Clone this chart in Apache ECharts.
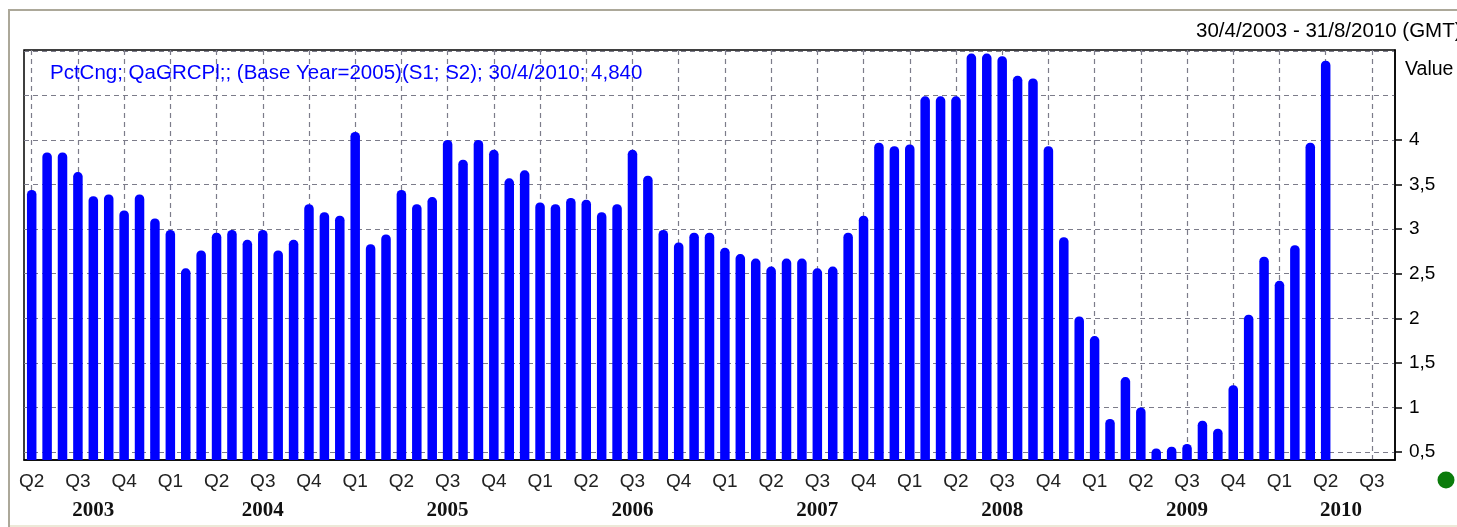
<!DOCTYPE html>
<html>
<head>
<meta charset="utf-8">
<title>PctCng QaGRCPl</title>
<script src="https://cdn.jsdelivr.net/npm/echarts@6/dist/echarts.min.js"></script>
<style>
  html, body { margin: 0; padding: 0; background: #fff; }
  #chart { width: 1457px; height: 527px; }
</style>
</head>
<body>
<div id="chart"></div>
<script>
// monthly categories, 30/4/2003 .. 31/8/2010 (May-Aug 2010 still empty)
const months = [
  '2003-04', '2003-05', '2003-06', '2003-07', '2003-08', '2003-09', '2003-10', '2003-11', '2003-12',
  '2004-01', '2004-02', '2004-03', '2004-04', '2004-05', '2004-06', '2004-07', '2004-08', '2004-09', '2004-10', '2004-11', '2004-12',
  '2005-01', '2005-02', '2005-03', '2005-04', '2005-05', '2005-06', '2005-07', '2005-08', '2005-09', '2005-10', '2005-11', '2005-12',
  '2006-01', '2006-02', '2006-03', '2006-04', '2006-05', '2006-06', '2006-07', '2006-08', '2006-09', '2006-10', '2006-11', '2006-12',
  '2007-01', '2007-02', '2007-03', '2007-04', '2007-05', '2007-06', '2007-07', '2007-08', '2007-09', '2007-10', '2007-11', '2007-12',
  '2008-01', '2008-02', '2008-03', '2008-04', '2008-05', '2008-06', '2008-07', '2008-08', '2008-09', '2008-10', '2008-11', '2008-12',
  '2009-01', '2009-02', '2009-03', '2009-04', '2009-05', '2009-06', '2009-07', '2009-08', '2009-09', '2009-10', '2009-11', '2009-12',
  '2010-01', '2010-02', '2010-03', '2010-04', '2010-05', '2010-06', '2010-07', '2010-08'
];

// percent change values, one per month from Apr 2003 to Apr 2010
const pctChange = [
  3.44, 3.86, 3.86, 3.64, 3.37, 3.39, 3.21, 3.39, 3.12,
  2.99, 2.56, 2.76, 2.96, 2.99, 2.88, 2.99, 2.76, 2.88, 3.28, 3.19, 3.15,
  4.09, 2.83, 2.94, 3.44, 3.28, 3.36, 4.00, 3.78, 4.00, 3.89, 3.57, 3.66,
  3.30, 3.28, 3.35, 3.33, 3.19, 3.28, 3.89, 3.60, 2.99, 2.85, 2.96, 2.96,
  2.79, 2.72, 2.67, 2.58, 2.67, 2.67, 2.56, 2.58, 2.96, 3.15, 3.97, 3.93,
  3.95, 4.49, 4.49, 4.49, 4.97, 4.97, 4.94, 4.72, 4.69, 3.93, 2.91, 2.02,
  1.80, 0.87, 1.34, 1.00, 0.54, 0.56, 0.59, 0.85, 0.76, 1.25, 2.04, 2.69,
  2.42, 2.82, 3.97, 4.89
];

// tick labels
const quarterMonths = { '01': 'Q1', '04': 'Q2', '07': 'Q3', '10': 'Q4' };
const yearLabelAt = ['2003-08', '2004-07', '2005-07', '2006-07', '2007-07', '2008-07', '2009-07', '2010-05'];
const yLabels = [0.5, 1, 1.5, 2, 2.5, 3, 3.5, 4];
const yGrid = [0.5, 1, 1.5, 2, 2.5, 3, 3.5, 4, 4.5, 5];

const titleText = 'PctCng; QaGRCPl;; (Base Year=2005)(S1; S2); 30/4/2010; 4,840';
const rangeText = '30/4/2003 - 31/8/2010 (GMT)';

const FONT = '"Liberation Sans", Arial, sans-serif';
const gridDash = { color: '#7c7c8a', width: 1.2, type: [5, 4] };

const isQuarter = (i, m) => quarterMonths[m.slice(5)] !== undefined;
const isJan = (i, m) => m.slice(5) === '01';

const chart = echarts.init(document.getElementById('chart'));

chart.setOption({
  animation: false,
  backgroundColor: '#fff',
  grid: {
    left: 24, top: 50, right: 62, bottom: 67,
    show: true, borderColor: '#000', borderWidth: 1.5,
    containLabel: false, outerBoundsMode: 'none'
  },
  xAxis: [
    {
      type: 'category',
      data: months,
      boundaryGap: true,
      axisLine: { lineStyle: { color: '#000', width: 1.5 } },
      // small dots just below the axis line
      axisTick: {
        interval: isQuarter, alignWithLabel: true, length: 6,
        lineStyle: { color: '#333', width: 1.5, type: [3, 3], dashOffset: 3 }
      },
      axisLabel: {
        interval: isQuarter, hideOverlap: false, margin: 12,
        fontFamily: FONT, fontSize: 19, color: '#222',
        formatter: m => quarterMonths[m.slice(5)]
      },
      splitLine: { show: true, interval: isQuarter, alignWithLabel: true, lineStyle: gridDash }
    },
    {
      // second row: years with separators
      type: 'category',
      data: months,
      position: 'bottom',
      offset: 38,
      axisLine: { show: false },
      axisTick: {
        interval: isJan, alignWithLabel: true, length: 25,
        lineStyle: { color: '#000', width: 1.5 }
      },
      axisLabel: {
        interval: (i, m) => yearLabelAt.includes(m), hideOverlap: false, margin: 2,
        fontFamily: '"Liberation Serif", "Times New Roman", serif', fontWeight: 'bold',
        fontSize: 21, color: '#111',
        formatter: m => m.slice(0, 4)
      },
      splitLine: { show: false }
    }
  ],
  yAxis: [
    {
      // grid lines only
      type: 'value', position: 'right', min: 0.41, max: 5.01,
      axisLine: { show: false },
      axisTick: { show: false, customValues: yGrid },
      axisLabel: { show: false },
      splitLine: { show: true, lineStyle: gridDash }
    },
    {
      type: 'value', position: 'right', min: 0.41, max: 5.01,
      axisLine: { show: true, lineStyle: { color: '#000', width: 1.5 } },
      axisTick: { show: true, customValues: yLabels, length: 7, lineStyle: { color: '#000', width: 1.5 } },
      axisLabel: {
        customValues: yLabels, margin: 14,
        fontFamily: FONT, fontSize: 19, color: '#000',
        formatter: v => String(v).replace('.', ',')
      },
      splitLine: { show: false }
    }
  ],
  series: [
    {
      type: 'bar',
      xAxisIndex: 0,
      yAxisIndex: 0,
      data: pctChange,
      barWidth: 9.5,
      itemStyle: { color: '#0000ff', borderRadius: [4.5, 4.5, 0, 0] },
      silent: true
    }
  ],
  graphic: [
    // window frame
    { type: 'line', z: 10, shape: { x1: 8, y1: 10, x2: 1457, y2: 10 }, style: { stroke: '#aca899', lineWidth: 2 } },
    { type: 'line', z: 10, shape: { x1: 9, y1: 10, x2: 9, y2: 527 }, style: { stroke: '#aca899', lineWidth: 2 } },
    { type: 'line', z: 10, shape: { x1: 10, y1: 526, x2: 1457, y2: 526 }, style: { stroke: '#ece9d8', lineWidth: 2 } },
    { type: 'text', z: 10, x: 1196, y: 31, style: { text: rangeText, fontFamily: FONT, fontSize: 20.5, fill: '#000', verticalAlign: 'middle' } },
    { type: 'text', z: 10, x: 50, y: 73, style: { text: titleText, fontFamily: FONT, fontSize: 20.5, fill: '#0000ff', verticalAlign: 'middle' } },
    { type: 'text', z: 10, x: 1405, y: 70, style: { text: 'Value', fontFamily: FONT, fontSize: 19.5, fill: '#000', verticalAlign: 'middle' } },
    { type: 'circle', z: 10, shape: { cx: 1446, cy: 480, r: 8.5 }, style: { fill: '#0b7b0b' } }
  ]
});
</script>
</body>
</html>
